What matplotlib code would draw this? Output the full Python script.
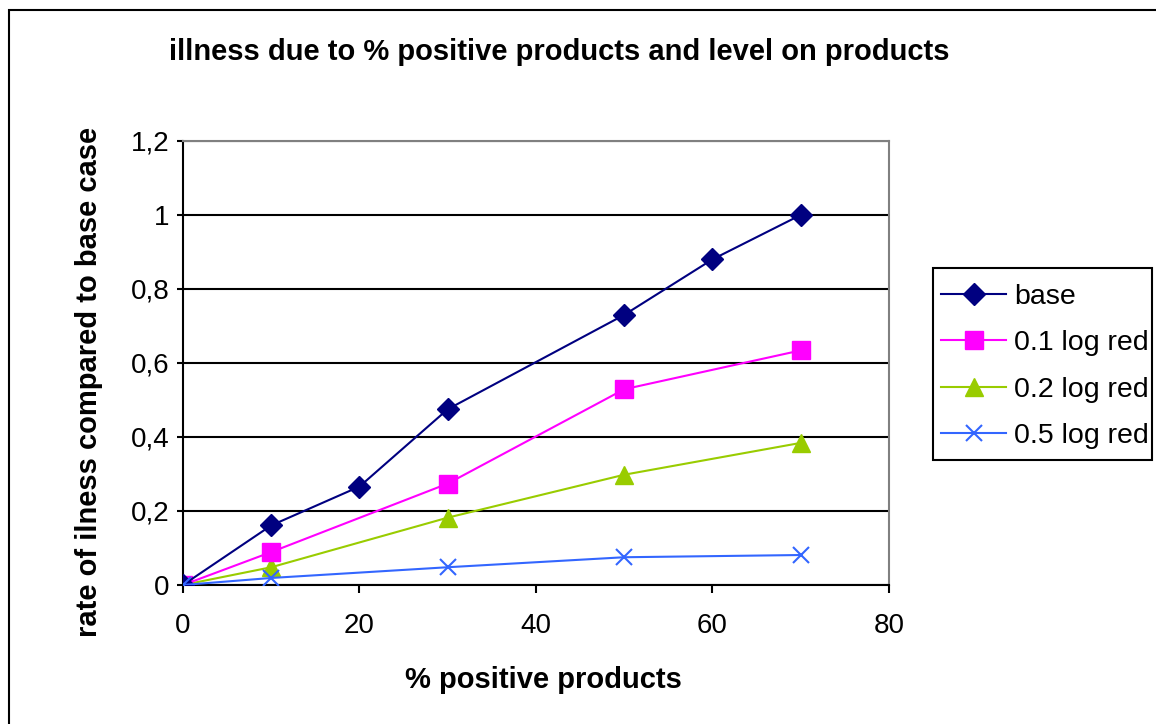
import matplotlib.pyplot as plt
from matplotlib.patches import Rectangle
from matplotlib.ticker import FuncFormatter

plt.rcParams['font.family'] = ['Liberation Sans', 'DejaVu Sans']

# percentage of positive products and relative illness rate per scenario
x_base = [0, 10, 20, 30, 50, 60, 70]
y_base = [0, 0.161, 0.266, 0.475, 0.73, 0.88, 1.0]

x_red = [0, 10, 30, 50, 70]
y_red01 = [0, 0.089, 0.274, 0.529, 0.634]
y_red02 = [0, 0.048, 0.182, 0.298, 0.384]
y_red05 = [0, 0.019, 0.048, 0.075, 0.081]

labels = ['base', '0.1 log red', '0.2 log red', '0.5 log red']
colors = ['#000080', '#FF00FF', '#99CC00', '#3366FF']

fig = plt.figure(figsize=(11.56, 7.24), dpi=100)
ax = fig.add_axes([0.1583, 0.192, 0.6107, 0.6133])

# outer chart border
fig.patches.append(Rectangle((9 / 1156, -0.02), 1.05, (714 / 724) + 0.02,
                             transform=fig.transFigure, fill=False,
                             edgecolor='black', linewidth=1.5, clip_on=False))

ax.plot(x_base, y_base, color=colors[0], marker='D', markersize=11,
        linewidth=1.5, label=labels[0], zorder=5)
ax.plot(x_red, y_red01, color=colors[1], marker='s', markersize=13,
        linewidth=1.5, label=labels[1], zorder=4)
ax.plot(x_red, y_red02, color=colors[2], marker='^', markersize=13,
        linewidth=1.5, label=labels[2], zorder=3)
ax.plot(x_red, y_red05, color=colors[3], marker='x', markersize=12,
        markeredgewidth=1.5, linewidth=1.5, label=labels[3], zorder=6)

ax.set_xlim(0, 80)
ax.set_ylim(0, 1.2)
ax.set_xticks([0, 20, 40, 60, 80])
ax.set_yticks([0, 0.2, 0.4, 0.6, 0.8, 1.0, 1.2])
ax.yaxis.set_major_formatter(
    FuncFormatter(lambda v, p: ('%g' % round(v, 1)).replace('.', ',')))

ax.grid(axis='y', color='black', linewidth=1.5)
ax.set_axisbelow(True)
for side in ['top', 'right']:
    ax.spines[side].set_color('#808080')
    ax.spines[side].set_linewidth(1.5)
for side in ['left', 'bottom']:
    ax.spines[side].set_color('black')
    ax.spines[side].set_linewidth(1.5)

ax.tick_params(axis='x', direction='out', length=6, width=1.5,
               labelsize=20, pad=14)
ax.tick_params(axis='y', direction='out', length=4.5, width=1.5,
               labelsize=20, pad=5)

ax.set_xlabel('% positive products', fontsize=21, fontweight='bold')
ax.xaxis.set_label_coords(0.5106, -0.182)
ax.set_ylabel('rate of ilness compared to base case', fontsize=21,
              fontweight='bold')
ax.yaxis.set_label_coords(-0.113, 0.457)
fig.text(0.4836, 0.928, 'illness due to % positive products and level on products',
         fontsize=21, fontweight='bold', ha='center', va='center')

# legend entries without frame; box drawn separately so it can hug the text
leg = ax.legend(loc='upper left', bbox_to_anchor=(0.807, 0.6202),
                bbox_transform=fig.transFigure, fontsize=20.5, frameon=False,
                handlelength=2.28, handletextpad=0.28, borderpad=0.3,
                labelspacing=0.72, borderaxespad=0)
fig.patches.append(Rectangle((933 / 1156, (724 - 460) / 724),
                             (1152 - 933) / 1156, 192 / 724,
                             transform=fig.transFigure, fill=False,
                             edgecolor='black', linewidth=1.5))

fig.savefig('out.png', dpi=100)
